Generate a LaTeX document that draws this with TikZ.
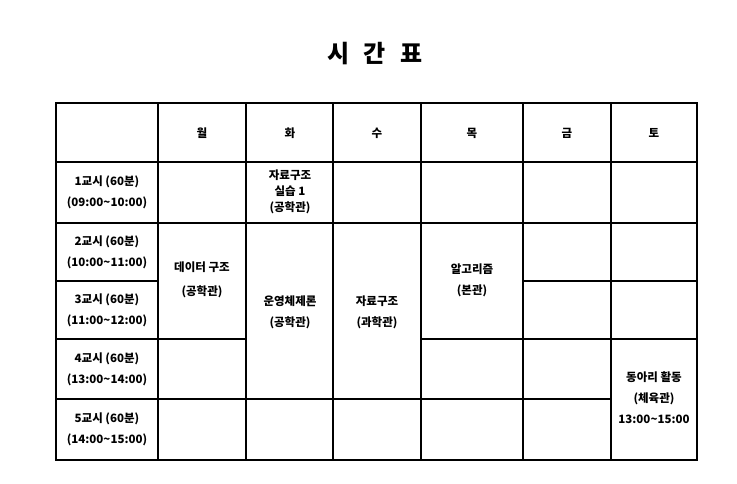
\documentclass[tikz,border=0pt]{standalone}
\usepackage{fontspec}
\setmainfont{Noto Sans CJK KR}
\newcommand{\til}{\textasciitilde}
\begin{document}
\begin{tikzpicture}[x=1pt,y=-1pt,line width=1.3pt,
  cell/.style={align=center,inner sep=0pt,font=\bfseries\fontsize{11.5}{21}\selectfont}]
\useasboundingbox (0,0) rectangle (737,483);
\node[font=\bfseries\fontsize{24}{28}\selectfont] (title) at (375,54) {시\hspace{14pt}간\hspace{14pt}표};

\draw (158,103) -- (158,460);
\draw (246,103) -- (246,460);
\draw (333,103) -- (333,460);
\draw (421,103) -- (421,460);
\draw (523,103) -- (523,460);
\draw (611,103) -- (611,460);
\draw (56,162) -- (697,162);
\draw (56,223) -- (697,223);
\draw (56,281) -- (158,281);
\draw (523,281) -- (697,281);
\draw (56,339) -- (246,339);
\draw (421,339) -- (697,339);
\draw (56,399) -- (611,399);
\draw[line width=2.6pt] (56,103) rectangle (697,460);

\node[cell] (mon) at (202,133) {월};
\node[cell] (tue) at (290,133) {화};
\node[cell] (wed) at (377,133) {수};
\node[cell] (thu) at (472,133) {목};
\node[cell] (fri) at (567,133) {금};
\node[cell] (sat) at (654,133) {토};

\node[cell] (p1) at (107,192) {1교시 (60분)\\(09:00\til10:00)};
\node[cell] (p2) at (107,252) {2교시 (60분)\\(10:00\til11:00)};
\node[cell] (p3) at (107,310) {3교시 (60분)\\(11:00\til12:00)};
\node[cell] (p4) at (107,369) {4교시 (60분)\\(13:00\til14:00)};
\node[cell] (p5) at (107,429) {5교시 (60분)\\(14:00\til15:00)};

\node[cell,font=\bfseries\fontsize{11.5}{16}\selectfont] (tue1) at (290,192) {자료구조\\실습 1\\(공학관)};
\node[cell,font=\bfseries\fontsize{11.5}{24}\selectfont] (mon23) at (202,280) {데이터 구조\\(공학관)};
\node[cell] (tue24) at (290,312) {운영체제론\\(공학관)};
\node[cell] (wed24) at (377,312) {자료구조\\(과학관)};
\node[cell] (thu23) at (472,280) {알고리즘\\(본관)};
\node[cell] (sat45) at (654,398) {동아리 활동\\(체육관)\\13:00\til15:00};
\end{tikzpicture}
\end{document}
